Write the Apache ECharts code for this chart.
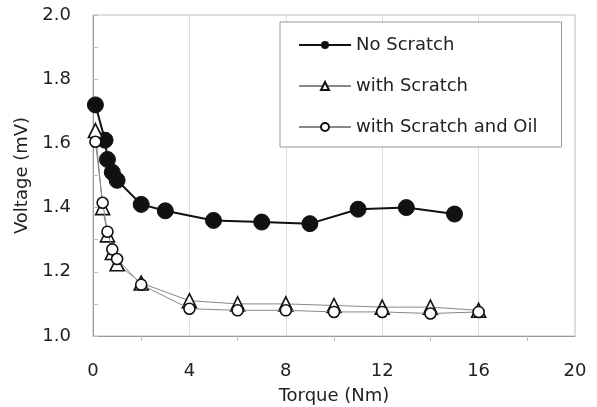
<!DOCTYPE html>
<html>
<head>
<meta charset="utf-8">
<script src="https://cdn.jsdelivr.net/npm/echarts@6/dist/echarts.min.js"></script>
<style>
  html, body { margin: 0; padding: 0; background: #fff; }
  #main { width: 597px; height: 407px; }
</style>
</head>
<body>
<div id="main"></div>
<script>
var torqueNoScratch = [0.1, 0.5, 0.6, 0.8, 1.0, 2, 3, 5, 7, 9, 11, 13, 15];
var voltNoScratch = [1.72, 1.61, 1.55, 1.51, 1.485, 1.41, 1.39, 1.36, 1.355, 1.35, 1.395, 1.40, 1.38];

var torqueScratch = [0.1, 0.4, 0.6, 0.8, 1.0, 2, 4, 6, 8, 10, 12, 14, 16];
var voltScratch = [1.64, 1.40, 1.315, 1.26, 1.225, 1.165, 1.11, 1.10, 1.10, 1.095, 1.09, 1.09, 1.08];
var voltScratchOil = [1.605, 1.415, 1.325, 1.27, 1.24, 1.16, 1.085, 1.08, 1.08, 1.075, 1.075, 1.07, 1.075];

var seriesNames = ['No Scratch', 'with Scratch', 'with Scratch and Oil'];

function pairs(xs, ys) {
  return xs.map(function (x, i) { return [x, ys[i]]; });
}

var myChart = echarts.init(document.getElementById('main'));
var font = 'DejaVu Sans';
option = {
  backgroundColor: '#fff',
  textStyle: { fontFamily: font, color: '#222' },
  animation: false,
  grid: {
    left: 93, right: 22, top: 15, bottom: 71,
    outerBoundsMode: 'none',
    containLabel: false,
    show: true, borderColor: '#bbb', borderWidth: 1
  },
  legend: {
    data: seriesNames,
    orient: 'vertical',
    left: 280,
    top: 22,
    padding: [14, 24, 11, 18],
    itemWidth: 52,
    itemHeight: 10,
    itemGap: 23,
    borderColor: '#999',
    borderWidth: 1,
    backgroundColor: '#fff',
    textStyle: { fontFamily: font, fontSize: 18, color: '#222' }
  },
  xAxis: {
    type: 'value',
    min: 0, max: 20, interval: 4,
    name: 'Torque (Nm)',
    nameLocation: 'middle',
    nameGap: 51,
    nameTextStyle: { fontFamily: font, fontSize: 18, color: '#222' },
    axisLine: { lineStyle: { color: '#999' } },
    axisTick: { show: false },
    minorTick: { show: true, splitNumber: 2, inside: true, length: 5, lineStyle: { color: '#bbb' } },
    axisLabel: { margin: 26, fontSize: 18, color: '#222', fontFamily: font },
    splitLine: { show: true, lineStyle: { color: '#ddd', width: 1 } }
  },
  yAxis: {
    type: 'value',
    min: 1.0, max: 2.0, interval: 0.2,
    name: 'Voltage (mV)',
    nameLocation: 'middle',
    nameGap: 60,
    nameTextStyle: { fontFamily: font, fontSize: 18, color: '#222' },
    axisLine: { show: true, lineStyle: { color: '#999' } },
    axisTick: { show: true, inside: true, length: 5, lineStyle: { color: '#bbb' } },
    minorTick: { show: true, splitNumber: 2, inside: true, length: 5, lineStyle: { color: '#bbb' } },
    axisLabel: {
      margin: 22, fontSize: 18, color: '#222', fontFamily: font,
      formatter: function (v) { return v.toFixed(1); }
    },
    splitLine: { show: false }
  },
  series: [
    {
      name: seriesNames[0],
      type: 'line',
      data: pairs(torqueNoScratch, voltNoScratch),
      symbol: 'circle',
      symbolSize: 16,
      lineStyle: { color: '#111', width: 2 },
      itemStyle: { color: '#111', borderColor: '#111' },
      z: 3
    },
    {
      name: seriesNames[1],
      type: 'line',
      data: pairs(torqueScratch, voltScratch),
      symbol: 'triangle',
      symbolSize: 14,
      lineStyle: { color: '#888', width: 1 },
      itemStyle: { color: '#fff', borderColor: '#111', borderWidth: 1.6 },
      z: 4
    },
    {
      name: seriesNames[2],
      type: 'line',
      data: pairs(torqueScratch, voltScratchOil),
      symbol: 'circle',
      symbolSize: 11,
      lineStyle: { color: '#888', width: 1 },
      itemStyle: { color: '#fff', borderColor: '#111', borderWidth: 1.6 },
      z: 5
    }
  ]
};
myChart.setOption(option);
</script>
</body>
</html>
